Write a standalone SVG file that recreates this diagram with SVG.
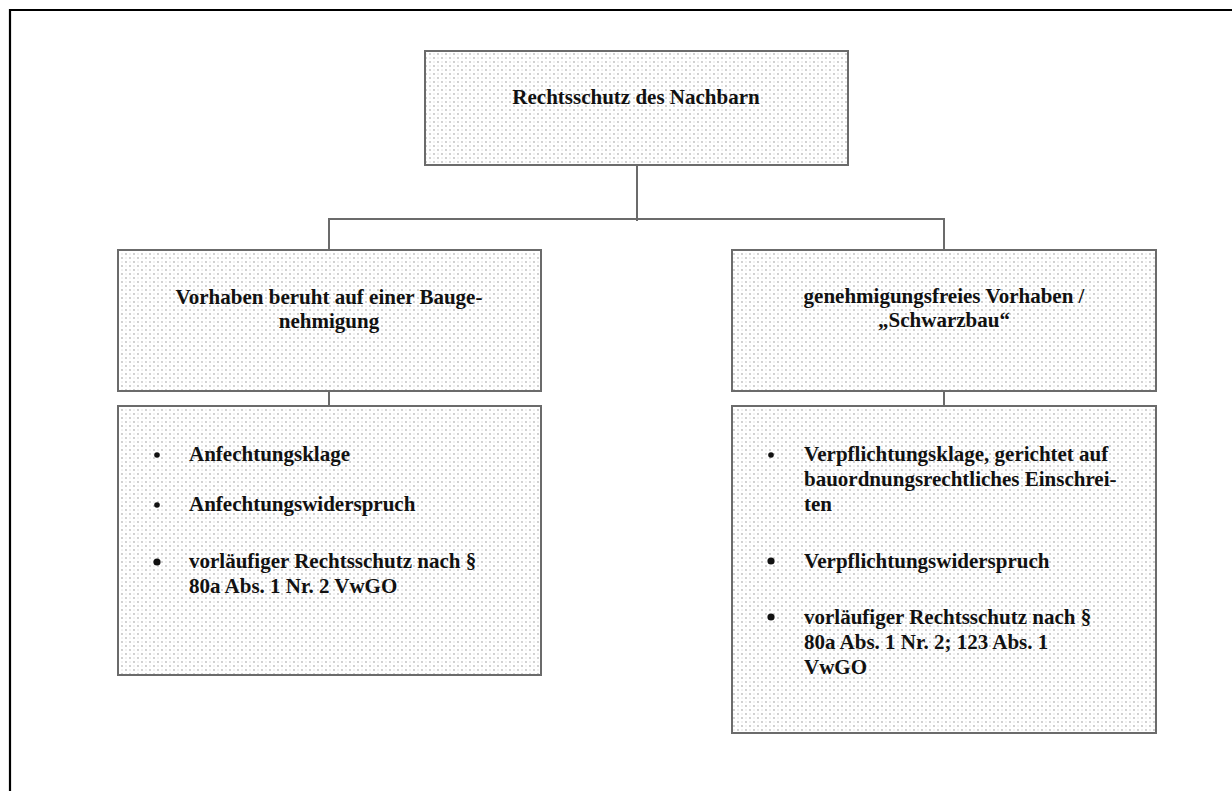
<svg xmlns="http://www.w3.org/2000/svg" width="1232" height="791" viewBox="0 0 1232 791">
  <defs>
    <!-- light dotted fill used inside every box -->
    <pattern id="dots" patternUnits="userSpaceOnUse" width="8" height="8">
      <rect width="8" height="8" fill="#ffffff"/>
      <circle cx="2" cy="2" r="0.9" fill="#bcbcbc"/>
      <circle cx="6" cy="6" r="0.9" fill="#bcbcbc"/>
      <circle cx="6" cy="2" r="0.7" fill="#d8d8d8"/>
      <circle cx="2" cy="6" r="0.7" fill="#d8d8d8"/>
    </pattern>
    <style>
      .box { fill: url(#dots); stroke: #6b6b6b; stroke-width: 2; }
      .line { fill: none; stroke: #6b6b6b; stroke-width: 2; }
      .t { font-family: "Liberation Serif", "Times New Roman", serif; font-weight: bold; font-size: 21px; fill: #111111; }
      .c { text-anchor: middle; }
      .bullet { fill: #111111; }
    </style>
  </defs>

  <rect width="1232" height="791" fill="#ffffff"/>

  <!-- page frame (top and left edges) -->
  <path d="M10,791 V10 H1232" fill="none" stroke="#000000" stroke-width="2.2"/>

  <!-- connectors -->
  <g id="connectors">
    <path class="line" d="M637,165 V221"/>
    <path class="line" d="M329,250 V219 H944 V250"/>
    <path class="line" d="M329,391 V406"/>
    <path class="line" d="M944,391 V406"/>
  </g>

  <g id="root">
    <rect class="box" x="425" y="51" width="423" height="114"/>
    <text class="t c" x="636" y="104">Rechtsschutz des Nachbarn</text>
  </g>

  <g id="baugenehmigung">
    <rect class="box" x="118" y="250" width="423" height="141"/>
    <text class="t c" x="329" y="304">Vorhaben beruht auf einer Bauge-</text>
    <text class="t c" x="329" y="328">nehmigung</text>
  </g>

  <g id="genehmigungsfrei">
    <rect class="box" x="732" y="250" width="424" height="141"/>
    <text class="t c" x="944" y="303">genehmigungsfreies Vorhaben /</text>
    <text class="t c" x="944" y="327">„Schwarzbau“</text>
  </g>

  <g id="rechtsbehelfe-links">
    <rect class="box" x="118" y="406" width="423" height="269"/>
    <circle class="bullet" cx="157" cy="455" r="2.8"/>
    <text class="t" x="189" y="461">Anfechtungsklage</text>
    <circle class="bullet" cx="157" cy="505" r="2.8"/>
    <text class="t" x="189" y="511">Anfechtungswiderspruch</text>
    <circle class="bullet" cx="157" cy="562" r="3.6"/>
    <text class="t" x="189" y="568">vorläufiger Rechtsschutz nach §</text>
    <text class="t" x="189" y="593">80a Abs. 1 Nr. 2 VwGO</text>
  </g>

  <g id="rechtsbehelfe-rechts">
    <rect class="box" x="732" y="406" width="424" height="327"/>
    <circle class="bullet" cx="771" cy="455" r="2.8"/>
    <text class="t" x="804" y="461">Verpflichtungsklage, gerichtet auf</text>
    <text class="t" x="804" y="486">bauordnungsrechtliches Einschrei-</text>
    <text class="t" x="804" y="511">ten</text>
    <circle class="bullet" cx="771" cy="561" r="3.6"/>
    <text class="t" x="804" y="568">Verpflichtungswiderspruch</text>
    <circle class="bullet" cx="771" cy="617" r="3.6"/>
    <text class="t" x="804" y="624">vorläufiger Rechtsschutz nach §</text>
    <text class="t" x="804" y="649">80a Abs. 1 Nr. 2; 123 Abs. 1</text>
    <text class="t" x="804" y="674">VwGO</text>
  </g>
</svg>
